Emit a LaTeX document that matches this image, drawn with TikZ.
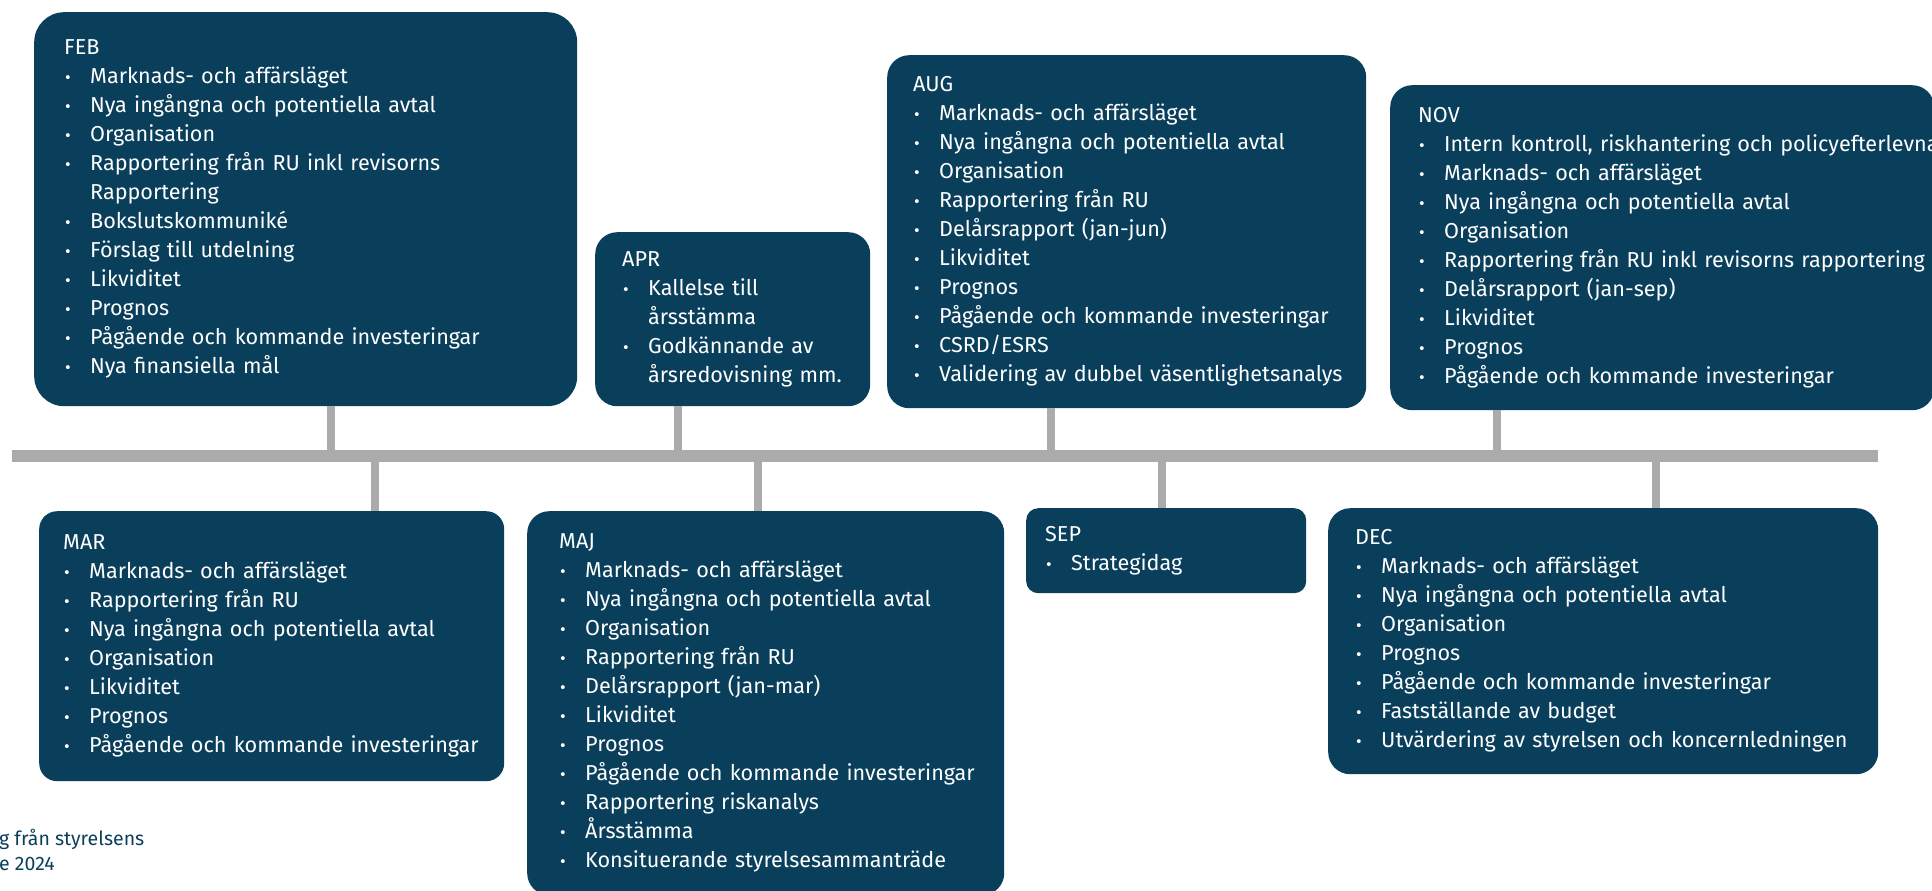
\documentclass[tikz,border=0pt]{standalone}
\usepackage{fontspec}
\setmainfont{Fira Sans}
\definecolor{boardblue}{HTML}{0A3F5C}
\definecolor{axisgrey}{HTML}{ABABAB}
% one bullet line, never broken, with a fixed hanging indent
\newcommand{\bl}[1]{\makebox[26pt][l]{\hspace{1pt}\scalebox{0.8}{\textbullet}}\mbox{#1}}
\newcommand{\cont}[1]{\hspace*{26pt}\mbox{#1}}
\tikzset{
    % The dark boxes, one for each meeting
    month/.style={fill=boardblue, text=white, rounded corners=22pt,
        anchor=north west, align=left, inner ysep=0pt,
        font=\fontsize{21.6}{29}\selectfont},
%
    % Grey time axis and the stems to the boxes
    axis line/.style={draw=axisgrey, line width=12pt},
    stem/.style={draw=axisgrey, line width=8pt}}

\begin{document}
\begin{tikzpicture}[x=1pt, y=-1pt]
\useasboundingbox (0,0) rectangle (1932,891);
\clip (0,0) rectangle (1932,891);

% boxes above the axis
\node [month, rounded corners=30pt, inner xsep=30pt, text width=483pt,
    minimum height=394pt] (feb) at (34,12)
    {FEB\\
     \bl{Marknads- och affärsläget}\\
     \bl{Nya ingångna och potentiella avtal}\\
     \bl{Organisation}\\
     \bl{Rapportering från RU inkl revisorns}\\
     \cont{Rapportering}\\
     \bl{Bokslutskommuniké}\\
     \bl{Förslag till utdelning}\\
     \bl{Likviditet}\\
     \bl{Prognos}\\
     \bl{Pågående och kommande investeringar}\\
     \bl{Nya finansiella mål}};
\node [month, inner xsep=27pt, text width=221pt, minimum height=174pt]
    (apr) at (595,232)
    {APR\\
     \bl{Kallelse till}\\
     \cont{årsstämma}\\
     \bl{Godkännande av}\\
     \cont{årsredovisning mm.}};
\node [month, inner xsep=26pt, text width=427pt, minimum height=353pt]
    (aug) at (887,55)
    {AUG\\
     \bl{Marknads- och affärsläget}\\
     \bl{Nya ingångna och potentiella avtal}\\
     \bl{Organisation}\\
     \bl{Rapportering från RU}\\
     \bl{Delårsrapport (jan-jun)}\\
     \bl{Likviditet}\\
     \bl{Prognos}\\
     \bl{Pågående och kommande investeringar}\\
     \bl{CSRD/ESRS}\\
     \bl{Validering av dubbel väsentlighetsanalys}};
\node [month, inner xsep=28pt, text width=488pt, minimum height=325pt]
    (nov) at (1390,85)
    {NOV\\
     \bl{Intern kontroll, riskhantering och policyefterlevnad}\\
     \bl{Marknads- och affärsläget}\\
     \bl{Nya ingångna och potentiella avtal}\\
     \bl{Organisation}\\
     \bl{Rapportering från RU inkl revisorns rapportering}\\
     \bl{Delårsrapport (jan-sep)}\\
     \bl{Likviditet}\\
     \bl{Prognos}\\
     \bl{Pågående och kommande investeringar}};

% boxes below the axis
\node [month, rounded corners=18pt, inner xsep=24pt, text width=417pt,
    minimum height=270pt] (mar) at (39,511)
    {MAR\\
     \bl{Marknads- och affärsläget}\\
     \bl{Rapportering från RU}\\
     \bl{Nya ingångna och potentiella avtal}\\
     \bl{Organisation}\\
     \bl{Likviditet}\\
     \bl{Prognos}\\
     \bl{Pågående och kommande investeringar}};
\node [month, inner xsep=32pt, text width=413pt, minimum height=384pt]
    (maj) at (527,511)
    {MAJ\\
     \bl{Marknads- och affärsläget}\\
     \bl{Nya ingångna och potentiella avtal}\\
     \bl{Organisation}\\
     \bl{Rapportering från RU}\\
     \bl{Delårsrapport (jan-mar)}\\
     \bl{Likviditet}\\
     \bl{Prognos}\\
     \bl{Pågående och kommande investeringar}\\
     \bl{Rapportering riskanalys}\\
     \bl{Årsstämma}\\
     \bl{Konsituerande styrelsesammanträde}};
\node [month, rounded corners=12pt, inner xsep=19pt, text width=242pt,
    minimum height=85pt] (sep) at (1026,508)
    {SEP\\
     \bl{Strategidag}};
\node [month, inner xsep=27pt, text width=496pt, minimum height=266pt]
    (dec) at (1328,508)
    {DEC\\
     \bl{Marknads- och affärsläget}\\
     \bl{Nya ingångna och potentiella avtal}\\
     \bl{Organisation}\\
     \bl{Prognos}\\
     \bl{Pågående och kommande investeringar}\\
     \bl{Fastställande av budget}\\
     \bl{Utvärdering av styrelsen och koncernledningen}};

% time axis
\coordinate (axis west) at (12,456);
\coordinate (axis east) at (1878,456);
\draw [axis line] (axis west) -- (axis east);

\foreach \mon/\x in {feb/331, apr/678, aug/1051, nov/1497}
    \draw [stem] (\x,0 |- \mon.south) -- (\x,0 |- axis west);
\foreach \mon/\x in {mar/375, maj/758, sep/1162, dec/1656}
    \draw [stem] (\x,0 |- axis west) -- (\x,0 |- \mon.north);

% cut-off caption at the lower left
\node [anchor=north west, inner sep=0pt, align=left, text=boardblue,
    font=\fontsize{19.5}{25}\selectfont] (note) at (-1,829)
    {g från styrelsens\\e 2024};
\end{tikzpicture}
\end{document}
